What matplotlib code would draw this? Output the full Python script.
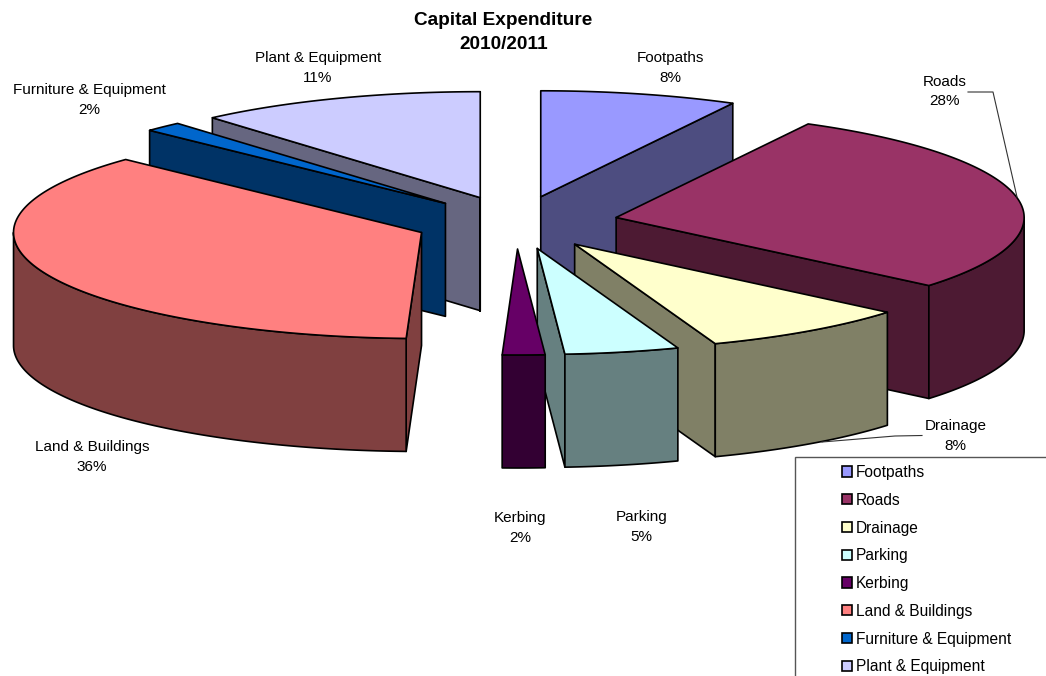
import numpy as np
import matplotlib
matplotlib.use("Agg")
import matplotlib.pyplot as plt
from matplotlib.patches import Polygon, Patch, Rectangle

plt.rcParams['font.family'] = ['Liberation Sans', 'DejaVu Sans']

# --- data ---
categories = ["Footpaths", "Roads", "Drainage", "Parking", "Kerbing",
              "Land & Buildings", "Furniture & Equipment", "Plant & Equipment"]
values = [7.8, 28.3, 8.3, 4.52, 1.68, 36.49, 1.51, 11.4]
title_lines = ["Capital Expenditure", "2010/2011"]

# --- style ---
top_colors = ["#9999FF", "#993366", "#FFFFCC", "#CCFFFF", "#660066", "#FF8080", "#0066CC", "#CCCCFF"]
side_colors = ["#4D4D80", "#4D1A33", "#808066", "#668080", "#330033", "#804040", "#003366", "#666680"]
label_xy = [(670.5, 68), (945, 91.5), (955.5, 436), (641.5, 527), (520, 528), (92, 457), (89, 100), (318, 68)]

# --- projection of the pie on the page (pixels) ---
CX, CY = 516.0, 222.5
RX, RY = 408.0, 106.0
DEPTH = 113.0
EXPLODE = 0.25
LW = 1.2


def point(apex, theta):
    """Rim point at clockwise angle theta (radians from 12 o'clock)."""
    return apex[0] + RX * np.sin(theta), apex[1] - RY * np.cos(theta)


def arc(apex, t0, t1):
    ts = np.linspace(t0, t1, max(int(abs(t1 - t0) * 120), 2))
    return np.column_stack([apex[0] + RX * np.sin(ts), apex[1] - RY * np.cos(ts)])


fig = plt.figure(figsize=(10.46, 6.76), dpi=100, facecolor="white")
ax = fig.add_axes([0, 0, 1, 1])
ax.set_xlim(0, 1046)
ax.set_ylim(676, 0)
ax.axis("off")

fractions = np.array(values) / np.sum(values)
edges = np.concatenate([[0], np.cumsum(fractions)]) * 2 * np.pi

apexes = []
for i in range(len(values)):
    mid = (edges[i] + edges[i + 1]) / 2
    apexes.append((CX + EXPLODE * RX * np.sin(mid), CY - EXPLODE * RY * np.cos(mid)))

order = sorted(range(len(values)), key=lambda i: (apexes[i][1], i))


def face(pts, color, z):
    ax.add_patch(Polygon(pts, closed=True, facecolor=color, edgecolor="black",
                         linewidth=LW, joinstyle="round", zorder=z))


z = 1
for i in order:
    t0, t1 = edges[i], edges[i + 1]
    apex = apexes[i]
    # radial walls that face the viewer
    for theta, show in ((t0, np.sin(t0) < 0), (t1, np.sin(t1) > 0)):
        if show:
            x, y = point(apex, theta)
            face([apex, (x, y), (x, y + DEPTH), (apex[0], apex[1] + DEPTH)], side_colors[i], z)
            z += 1
    # outer wall: only the lower half of the rim
    a0, a1 = max(t0, np.pi / 2), min(t1, 3 * np.pi / 2)
    if a1 > a0:
        rim = arc(apex, a0, a1)
        low = rim[::-1] + np.array([0, DEPTH])
        face(np.vstack([rim, low]), side_colors[i], z)
        z += 1
    # top
    face(np.vstack([[apex], arc(apex, t0, t1)]), top_colors[i], z)
    z += 1

# leader lines
ax.plot([968, 993, 1017], [92, 92, 197], color="#333333", lw=0.8, zorder=z)
ax.plot([922, 895, 822], [435.5, 436, 442], color="#333333", lw=0.8, zorder=z)

# data labels
for name, v, (x, y) in zip(categories, values, label_xy):
    ax.text(x, y, f"{name}\n{v:.0f}%", ha="center", va="center", fontsize=10.95,
            linespacing=1.5, color="black", zorder=z + 1)

ax.text(503.5, 32.5, "\n".join(title_lines), ha="center", va="center", fontsize=13.67,
        fontweight="bold", linespacing=1.55, color="black", zorder=z + 1)

# legend frame runs off the canvas, as in the reference
ax.add_patch(Rectangle((795, 457), 400, 400, facecolor="white", edgecolor="#555555",
                       linewidth=1.0, zorder=z + 2))
handles = [Patch(facecolor=c, edgecolor="black", linewidth=1.2) for c in top_colors]
leg = ax.legend(handles, categories, loc="upper left", bbox_to_anchor=(842, 465),
                bbox_transform=ax.transData, frameon=False, fontsize=11.2,
                handlelength=0.64, handleheight=0.64, handletextpad=0.26,
                labelspacing=0.82, borderpad=0, borderaxespad=0)
leg.set_zorder(z + 3)

fig.savefig("out.png", dpi=100)
